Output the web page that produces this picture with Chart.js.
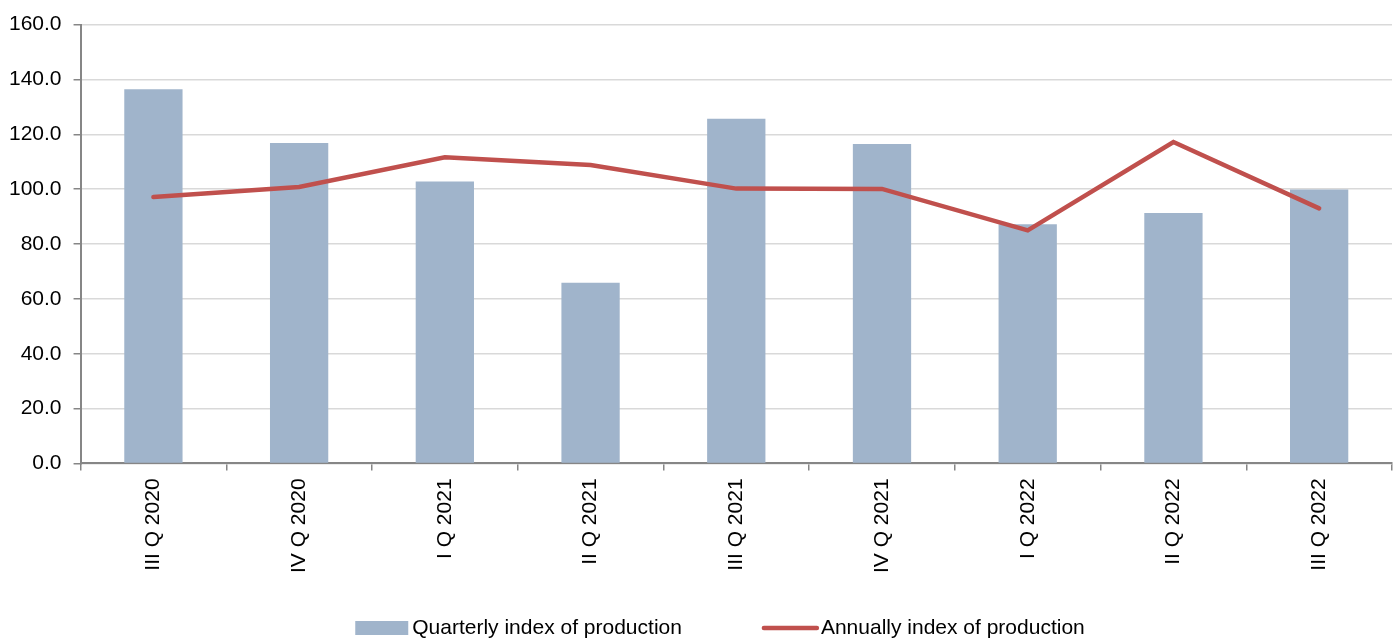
<!DOCTYPE html>
<html>
<head>
<meta charset="utf-8">
<script src="https://cdn.jsdelivr.net/npm/chart.js@4.4.0/dist/chart.umd.min.js"></script>
<style>
  html, body { margin: 0; padding: 0; background: #ffffff; }
  #wrap { width: 1400px; height: 640px; position: relative; }
</style>
</head>
<body>
<div id="wrap"><canvas id="c"></canvas></div>
<script>
const categories = ['III Q 2020', 'IV Q 2020', 'I Q 2021', 'II Q 2021', 'III Q 2021', 'IV Q 2021', 'I Q 2022', 'II Q 2022', 'III Q 2022'];
const quarterlyIndex = [136.4, 116.8, 102.8, 65.9, 125.7, 116.5, 87.2, 91.3, 99.9];
const annualIndex = [97.1, 100.8, 111.6, 108.8, 100.2, 100.1, 85.0, 117.2, 93.0];
const quarterlyLabel = 'Quarterly index of production';
const annualLabel = 'Annually index of production';

const FONT = '"Liberation Sans", Arial, sans-serif';
const BAR_COLOR = '#a0b4cb';
const LINE_COLOR = '#c0504d';

const customLegend = {
  id: 'customLegend',
  afterDraw(chart) {
    const ctx = chart.ctx;
    ctx.save();
    ctx.font = '21px ' + FONT;
    ctx.textBaseline = 'middle';
    ctx.textAlign = 'left';
    const boxW = 53, gapText = 4, gapItems = 80;
    const barDs = chart.data.datasets[1];
    const lineDs = chart.data.datasets[0];
    const w1 = ctx.measureText(barDs.label).width;
    const w2 = ctx.measureText(lineDs.label).width;
    const total = boxW + gapText + w1 + gapItems + boxW + gapText + 2 + w2;
    const cx = chart.width / 2 + 20;
    const y = chart.height - 12;
    let x = cx - total / 2;
    ctx.fillStyle = barDs.backgroundColor;
    ctx.fillRect(x, y - 7, boxW, 14);
    x += boxW + gapText;
    ctx.fillStyle = '#000000';
    ctx.fillText(barDs.label, x, y);
    x += w1 + gapItems;
    ctx.strokeStyle = lineDs.borderColor;
    ctx.lineWidth = 4.5;
    ctx.lineCap = 'round';
    ctx.beginPath();
    ctx.moveTo(x + 2, y);
    ctx.lineTo(x + boxW + 2, y);
    ctx.stroke();
    x += boxW + gapText + 2;
    ctx.fillStyle = '#000000';
    ctx.fillText(lineDs.label, x, y);
    ctx.restore();
  }
};

new Chart(document.getElementById('c'), {
  type: 'bar',
  data: {
    labels: categories,
    datasets: [
      {
        type: 'line',
        label: annualLabel,
        data: annualIndex,
        borderColor: LINE_COLOR,
        backgroundColor: LINE_COLOR,
        borderWidth: 4.5,
        borderCapStyle: 'round',
        borderJoinStyle: 'miter',
        pointRadius: 0,
        pointHoverRadius: 0,
        tension: 0,
        fill: false
      },
      {
        type: 'bar',
        label: quarterlyLabel,
        data: quarterlyIndex,
        backgroundColor: BAR_COLOR,
        borderWidth: 0,
        barPercentage: 0.4,
        categoryPercentage: 1.0
      }
    ]
  },
  options: {
    responsive: true,
    maintainAspectRatio: false,
    animation: false,
    devicePixelRatio: 1,
    layout: { padding: { left: -3, right: 8, top: 10, bottom: 59 } },
    plugins: {
      legend: { display: false },
      tooltip: { enabled: false }
    },
    scales: {
      x: {
        offset: true,
        grid: {
          display: true,
          offset: true,
          drawOnChartArea: false,
          drawTicks: true,
          tickLength: 7,
          tickColor: '#868686',
          lineWidth: 1.5
        },
        border: { display: true, color: '#868686', width: 2 },
        ticks: {
          minRotation: 90,
          maxRotation: 90,
          autoSkip: false,
          padding: 8,
          color: '#000000',
          font: { family: FONT, size: 21 }
        }
      },
      y: {
        min: 0,
        max: 160,
        grid: {
          color: '#d9d9d9',
          lineWidth: 1.5,
          tickLength: 7,
          tickColor: '#868686'
        },
        border: { display: true, color: '#868686', width: 2 },
        ticks: {
          stepSize: 20,
          padding: 12,
          color: '#000000',
          font: { family: FONT, size: 21 },
          callback: (v) => Number(v).toFixed(1)
        }
      }
    }
  },
  plugins: [customLegend]
});
</script>
</body>
</html>
